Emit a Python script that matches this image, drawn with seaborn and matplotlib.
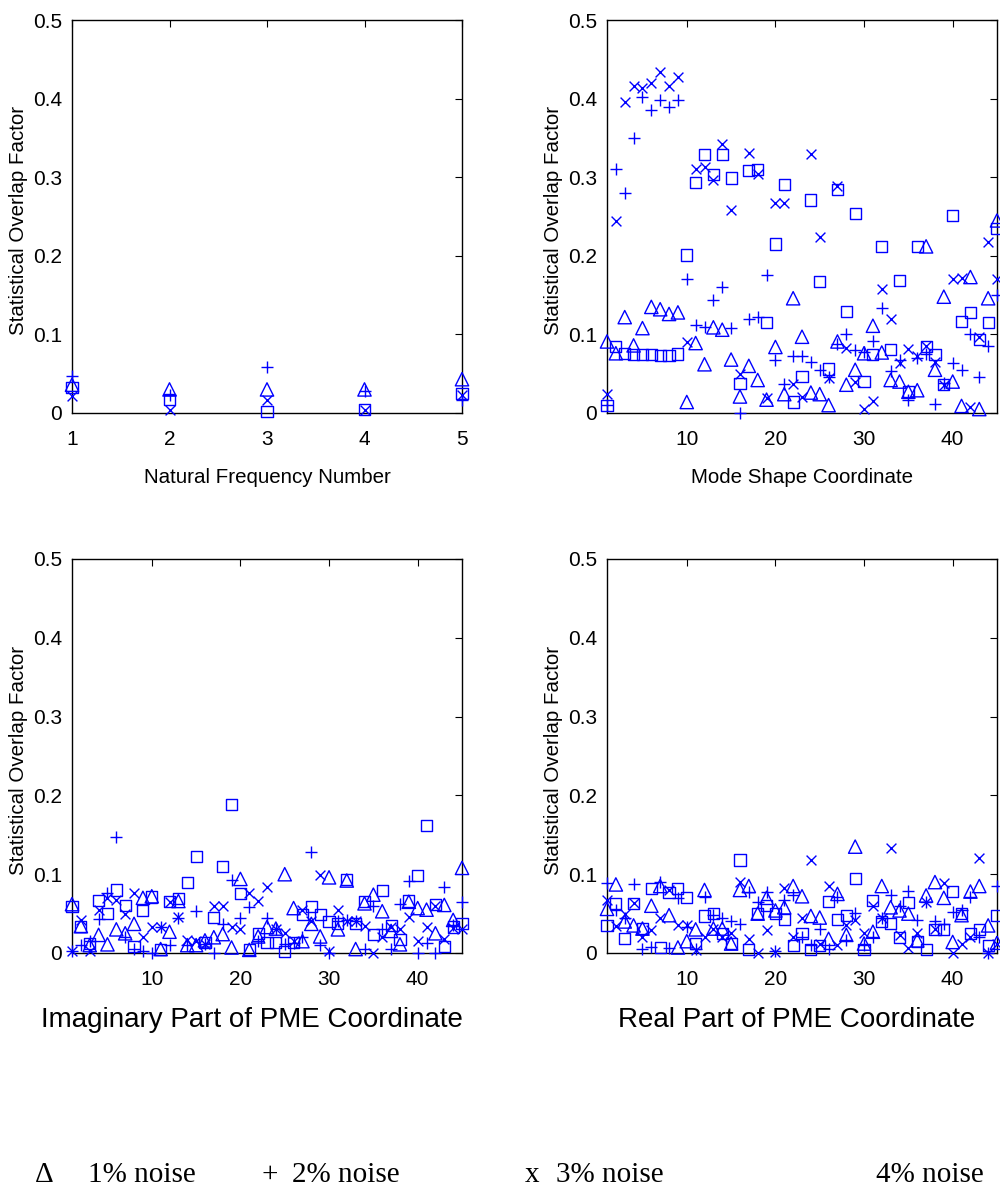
import numpy as np
import pandas as pd
import matplotlib
matplotlib.use("Agg")
import matplotlib.pyplot as plt
import seaborn as sns

# ---------------- data ----------------
freq_idx = [1, 2, 3, 4, 5]
freq_tri = [0.036, 0.030, 0.030, 0.030, 0.043]
freq_plus = [0.047, 0.023, 0.058, 0.028, 0.017]
freq_x = [0.021, 0.004, 0.017, 0.004, 0.023]
freq_sq = [0.032, 0.017, 0.002, 0.004, 0.025]

coord_idx = list(range(1, 46))

mode_tri = [0.091, 0.076, 0.122, 0.086, 0.108, 0.135, 0.132, 0.126, 0.128, 0.014,
            0.089, 0.062, 0.109, 0.106, 0.068, 0.021, 0.060, 0.042, 0.017, 0.084,
            0.024, 0.146, 0.097, 0.026, 0.024, 0.010, 0.091, 0.036, 0.055, 0.076,
            0.111, 0.077, 0.042, 0.040, 0.027, 0.029, 0.212, 0.055, 0.148, 0.040,
            0.009, 0.173, 0.005, 0.146, 0.245]
mode_plus = [0.010, 0.311, 0.280, 0.350, 0.402, 0.385, 0.398, 0.389, 0.398, 0.170,
             0.112, 0.110, 0.144, 0.160, 0.108, 0.000, 0.119, 0.122, 0.176, 0.067,
             0.037, 0.072, 0.072, 0.065, 0.055, 0.046, 0.088, 0.100, 0.080, 0.078,
             0.091, 0.133, 0.054, 0.067, 0.016, 0.070, 0.075, 0.012, 0.038, 0.063,
             0.055, 0.100, 0.046, 0.085, 0.150]
mode_x = [0.024, 0.244, 0.396, 0.416, 0.414, 0.420, 0.434, 0.416, 0.428, 0.090,
          0.311, 0.313, 0.296, 0.342, 0.258, 0.050, 0.331, 0.304, 0.019, 0.267,
          0.267, 0.037, 0.020, 0.330, 0.224, 0.045, 0.289, 0.083, 0.040, 0.005,
          0.015, 0.158, 0.120, 0.063, 0.082, 0.072, 0.085, 0.065, 0.035, 0.170,
          0.172, 0.008, 0.097, 0.218, 0.170]
mode_sq = [0.010, 0.085, 0.076, 0.074, 0.074, 0.074, 0.073, 0.073, 0.075, 0.201,
           0.293, 0.329, 0.304, 0.329, 0.299, 0.037, 0.308, 0.310, 0.115, 0.215,
           0.291, 0.014, 0.046, 0.271, 0.167, 0.056, 0.284, 0.129, 0.254, 0.040,
           0.074, 0.212, 0.081, 0.169, 0.027, 0.212, 0.085, 0.074, 0.036, 0.251,
           0.116, 0.128, 0.094, 0.115, 0.235]

imag_tri = [0.062, 0.034, 0.010, 0.023, 0.011, 0.030, 0.025, 0.037, 0.070, 0.072,
            0.005, 0.027, 0.066, 0.010, 0.010, 0.016, 0.020, 0.024, 0.007, 0.094,
            0.004, 0.021, 0.033, 0.031, 0.100, 0.057, 0.015, 0.037, 0.021, 0.096,
            0.030, 0.092, 0.005, 0.063, 0.074, 0.053, 0.028, 0.011, 0.065, 0.057,
            0.055, 0.025, 0.061, 0.042, 0.108]
imag_plus = [0.003, 0.010, 0.015, 0.043, 0.076, 0.147, 0.020, 0.005, 0.002, 0.000,
             0.033, 0.010, 0.044, 0.010, 0.053, 0.012, 0.000, 0.037, 0.093, 0.045,
             0.058, 0.015, 0.044, 0.030, 0.012, 0.013, 0.020, 0.128, 0.010, 0.000,
             0.040, 0.042, 0.040, 0.005, 0.060, 0.030, 0.005, 0.062, 0.092, 0.000,
             0.013, 0.000, 0.084, 0.035, 0.065]
imag_x = [0.002, 0.042, 0.003, 0.054, 0.070, 0.067, 0.049, 0.076, 0.020, 0.033,
          0.033, 0.065, 0.046, 0.016, 0.015, 0.012, 0.060, 0.060, 0.033, 0.030,
          0.076, 0.066, 0.084, 0.030, 0.025, 0.015, 0.054, 0.040, 0.099, 0.003,
          0.054, 0.040, 0.040, 0.034, 0.000, 0.020, 0.033, 0.030, 0.046, 0.015,
          0.033, 0.060, 0.018, 0.032, 0.030]
imag_sq = [0.059, 0.034, 0.012, 0.067, 0.050, 0.080, 0.060, 0.008, 0.054, 0.071,
           0.005, 0.065, 0.069, 0.089, 0.123, 0.013, 0.045, 0.110, 0.188, 0.075,
           0.005, 0.025, 0.013, 0.013, 0.002, 0.013, 0.049, 0.059, 0.049, 0.040,
           0.037, 0.093, 0.038, 0.065, 0.023, 0.079, 0.035, 0.017, 0.066, 0.098,
           0.162, 0.061, 0.008, 0.033, 0.038]

real_tri = [0.056, 0.087, 0.040, 0.035, 0.031, 0.060, 0.085, 0.048, 0.007, 0.015,
            0.030, 0.080, 0.031, 0.031, 0.012, 0.080, 0.085, 0.050, 0.070, 0.054,
            0.058, 0.085, 0.072, 0.047, 0.045, 0.018, 0.075, 0.023, 0.135, 0.012,
            0.027, 0.085, 0.058, 0.054, 0.050, 0.016, 0.073, 0.090, 0.070, 0.014,
            0.048, 0.078, 0.085, 0.035, 0.013]
real_plus = [0.089, 0.054, 0.044, 0.087, 0.005, 0.008, 0.090, 0.006, 0.070, 0.033,
             0.005, 0.071, 0.048, 0.044, 0.040, 0.037, 0.078, 0.065, 0.078, 0.003,
             0.067, 0.073, 0.020, 0.010, 0.030, 0.005, 0.071, 0.016, 0.051, 0.010,
             0.020, 0.045, 0.073, 0.060, 0.079, 0.042, 0.065, 0.040, 0.037, 0.052,
             0.055, 0.071, 0.020, 0.000, 0.085]
real_x = [0.067, 0.034, 0.050, 0.063, 0.020, 0.029, 0.045, 0.080, 0.035, 0.035,
          0.004, 0.020, 0.030, 0.020, 0.025, 0.090, 0.018, 0.000, 0.029, 0.001,
          0.082, 0.020, 0.044, 0.118, 0.012, 0.085, 0.010, 0.035, 0.042, 0.025,
          0.060, 0.045, 0.133, 0.023, 0.006, 0.025, 0.065, 0.030, 0.089, 0.000,
          0.012, 0.020, 0.121, 0.000, 0.011]
real_sq = [0.035, 0.063, 0.018, 0.063, 0.031, 0.082, 0.007, 0.077, 0.082, 0.070,
           0.012, 0.047, 0.050, 0.025, 0.012, 0.118, 0.005, 0.050, 0.060, 0.050,
           0.043, 0.010, 0.025, 0.005, 0.010, 0.065, 0.043, 0.048, 0.095, 0.005,
           0.067, 0.040, 0.038, 0.020, 0.064, 0.015, 0.004, 0.030, 0.030, 0.078,
           0.050, 0.025, 0.030, 0.010, 0.048]

y_ticks = [0, 0.1, 0.2, 0.3, 0.4, 0.5]
y_ticklabels = ["0", "0.1", "0.2", "0.3", "0.4", "0.5"]
ylabel = "Statistical Overlap Factor"
legend_labels = ["1% noise", "2% noise", "3% noise", "4% noise"]

# ---------------- style ----------------
sns.set_theme(style="white")
plt.rcParams["font.family"] = ["Liberation Sans", "DejaVu Sans"]

BLUE = "#0000ff"
MARKERS = [("^", 92, True), ("+", 72, False), ("x", 50, False), ("s", 64, True)]

W, H = 1000, 1192
fig = plt.figure(figsize=(W / 100, H / 100), dpi=100)


def make_ax(left_px, top_px, right_px, bottom_px):
    return fig.add_axes([left_px / W, 1 - bottom_px / H,
                         (right_px - left_px) / W, (bottom_px - top_px) / H])


def draw(ax, xs, series, xlim, xticks, top=True):
    for (m, s, filled), vals in zip(MARKERS, series):
        df = pd.DataFrame({"x": xs, "y": vals})
        if filled:
            sns.scatterplot(data=df, x="x", y="y", ax=ax, marker=m, s=s,
                            color=BLUE, facecolor="none", edgecolor=BLUE,
                            linewidth=1.0, clip_on=False, legend=False, zorder=3)
        else:
            sns.scatterplot(data=df, x="x", y="y", ax=ax, marker=m, s=s,
                            color=BLUE, linewidth=1.0, clip_on=False,
                            legend=False, zorder=3)
    ax.set_xlim(*xlim)
    ax.set_ylim(0, 0.5)
    ax.set_xticks(xticks)
    ax.set_xticklabels([str(t) for t in xticks])
    ax.set_yticks(y_ticks)
    ax.set_yticklabels(y_ticklabels)
    ax.tick_params(direction="in", top=True, right=True, length=5, width=0.8,
                   labelsize=15, colors="black", pad=7)
    ax.tick_params(axis="x", pad=12 if top else 12)
    for sp in ax.spines.values():
        sp.set_visible(True)
        sp.set_color("black")
        sp.set_linewidth(1.0)
    ax.set_xlabel("")
    ax.set_ylabel(ylabel, fontsize=14.8, color="black")
    ax.yaxis.set_label_coords(-0.112, 0.49)
    ax.grid(False)


ax1 = make_ax(72, 20, 462, 413)
draw(ax1, freq_idx, [freq_tri, freq_plus, freq_x, freq_sq], (1, 5), [1, 2, 3, 4, 5])
ax1.set_xlabel("Natural Frequency Number", fontsize=14.8, color="black")
ax1.xaxis.set_label_coords(0.5, -0.14)

ax2 = make_ax(607, 20, 997, 413)
draw(ax2, coord_idx, [mode_tri, mode_plus, mode_x, mode_sq], (1, 45), [10, 20, 30, 40])
ax2.set_xlabel("Mode Shape Coordinate", fontsize=14.8, color="black")
ax2.xaxis.set_label_coords(0.5, -0.14)

ax3 = make_ax(72, 559, 462, 953)
draw(ax3, coord_idx, [imag_tri, imag_plus, imag_x, imag_sq], (1, 45), [10, 20, 30, 40], top=False)

ax4 = make_ax(607, 559, 997, 953)
draw(ax4, coord_idx, [real_tri, real_plus, real_x, real_sq], (1, 45), [10, 20, 30, 40], top=False)

fig.text(252 / W, 1 - 1020 / H, "Imaginary Part of PME Coordinate",
         fontsize=20, ha="center", va="center", color="black")
fig.text(797 / W, 1 - 1020 / H, "Real Part of PME Coordinate",
         fontsize=20, ha="center", va="center", color="black")

# ---- bottom text legend (serif) ----
serif = ["Liberation Serif", "DejaVu Serif"]
ly = 1 - 1175 / H
legend_syms = [("\u0394", 44), ("+", 270), ("x", 532), ("", 850)]
legend_pos = [88, 292, 556, 876]
for (sym, sx), lab, lx in zip(legend_syms, legend_labels, legend_pos):
    if sym:
        fig.text(sx / W, ly, sym, fontsize=21, family=serif, ha="center",
                 va="center", color="black")
    fig.text(lx / W, ly, lab, fontsize=21, family=serif, ha="left",
             va="center", color="black")

fig.savefig("out.png", dpi=100, facecolor="white")
